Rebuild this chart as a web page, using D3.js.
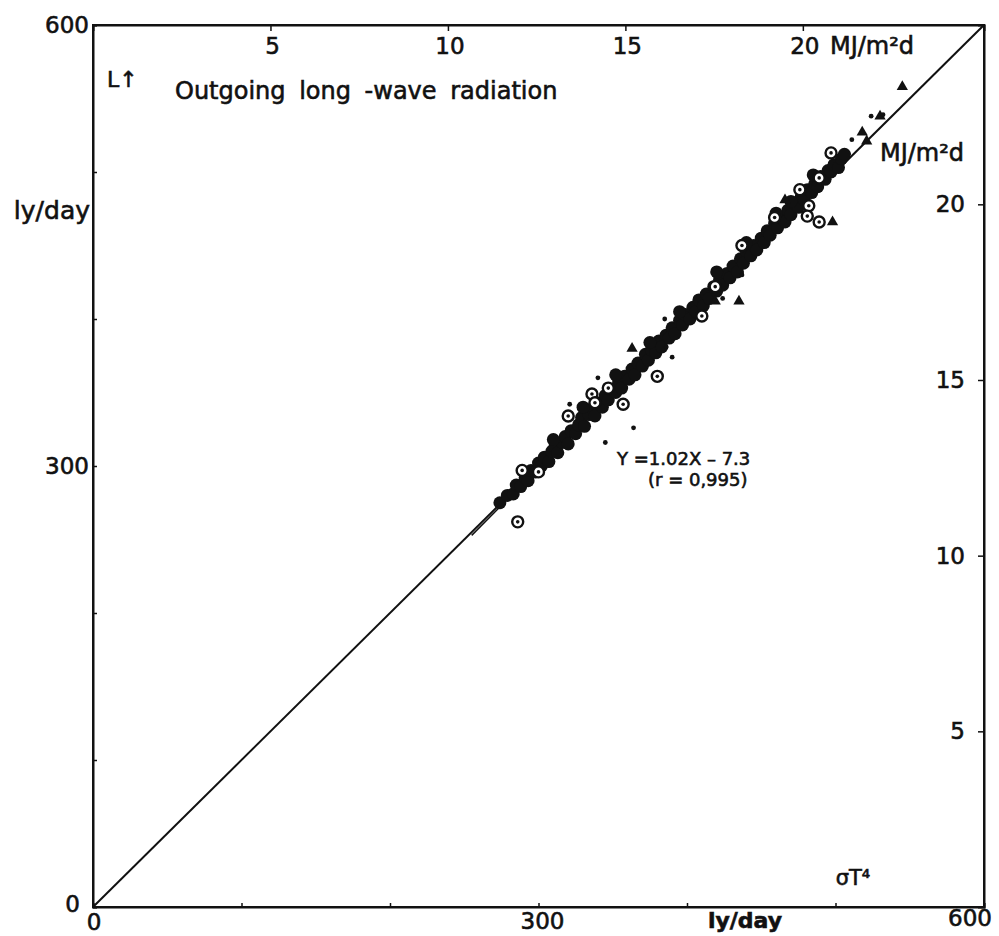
<!DOCTYPE html>
<html><head><meta charset="utf-8">
<script src="https://cdn.jsdelivr.net/npm/d3@7/dist/d3.min.js"></script>
<style>
html,body{margin:0;padding:0;background:#fff;}
text{font-family:"DejaVu Sans","Noto Sans",sans-serif;font-weight:normal;fill:#111;stroke:#111;stroke-width:0.6px;}
</style></head>
<body>
<svg id="chart" width="999" height="936"></svg>
<script>
// ---- data (ly/day) ----
const lyTicks = [0, 100, 200, 300, 400, 500, 600];
const lyLabels = [0, 300, 600];
const mjTicks = [5, 10, 15, 20];
const MJ_PER_LY = 0.04184;
const regression = {slope: 1.02, intercept: -7.3, xFrom: 255, xTo: 510};

const denseX = [274,279,283,285,288,291,293,295,298,300,302,304,307,309,311,313,316,318,320,322,325,327,329,331,334,336,338,341,343,345,347,349,352,354,356,358,361,363,365,367,370,372,374,376,379,381,383,386,388,390,392,395,397,399,402,404,406,408,411,413,415,418,420,422,424,427,429,431,434,436,438,440,443,445,447,450,452,454,456,459,461,463,466,468,470,472,475,477,479,481,484,486,488,490,493,495,497,499,502,504,506,330,352,420,460,485,440,395,470,310,375];
const denseY = [275,280,281,287,286,292,290,297,296,302,300,306,303,310,313,309,316,320,315,324,322,328,333,327,335,339,334,343,340,348,345,352,350,357,353,361,359,366,362,370,368,376,372,379,377,385,381,389,387,394,390,399,396,403,400,408,405,413,409,417,414,422,419,427,423,431,428,436,432,441,438,446,443,450,447,455,452,460,457,465,462,469,466,474,471,479,476,483,481,488,486,492,490,497,495,501,500,505,503,509,512,340,362,432,472,498,452,405,480,318,384];

const openX = [286,320,336,338,357,347,380,410,419,437,459,476,482,481,489,489,497,289,300];
const openY = [262,334,349,343,342,353,361,402,422,450,469,488,477,470,466,496,513,297,296];

const triX = [363,419,435,466,498,518,521,530,545];
const triY = [380,412,412,481,466,527,521,538,558];

const dotX = [321,364,345,385,390,340,386,524,532,511,437,424,486];
const dotY = [342,326,316,400,374,360,381,538,539,522,430,414,492];

// ---- layout ----
const svg = d3.select("#chart");
const L = 93, R = 984, T = 25, B = 907;
const x = d3.scaleLinear().domain([0, 600]).range([L, R]);
const y = d3.scaleLinear().domain([0, 600]).range([B, T]);
const xMJ = d3.scaleLinear().domain([0, 600 * MJ_PER_LY]).range([L, R]);
const yMJ = d3.scaleLinear().domain([0, 600 * MJ_PER_LY]).range([B, T]);

// axes (ticks inward, labels drawn separately)
svg.append("g").attr("transform", `translate(${L},0)`)
  .call(d3.axisLeft(y).tickValues(lyTicks).tickSize(-4).tickFormat(""));
svg.append("g").attr("transform", `translate(0,${B})`)
  .call(d3.axisBottom(x).tickValues(lyTicks).tickSize(-4).tickFormat(""));
svg.append("g").attr("transform", `translate(0,${T})`)
  .call(d3.axisTop(xMJ).tickValues(mjTicks).tickSize(-6).tickFormat(""));
svg.append("g").attr("transform", `translate(${R},0)`)
  .call(d3.axisRight(yMJ).tickValues(mjTicks).tickSize(-6).tickFormat(""));
svg.selectAll(".domain").attr("stroke", "#111").attr("stroke-width", 2);
svg.selectAll(".tick line").attr("stroke", "#111").attr("stroke-width", 1.5);

// frame
svg.append("rect").attr("x", L).attr("y", T).attr("width", R - L).attr("height", B - T)
  .attr("fill", "none").attr("stroke", "#111").attr("stroke-width", 2);

// 1:1 line
svg.append("line").attr("x1", x(0)).attr("y1", y(0)).attr("x2", x(600)).attr("y2", y(600))
  .attr("stroke", "#111").attr("stroke-width", 2);
// regression line
svg.append("line")
  .attr("x1", x(regression.xFrom)).attr("y1", y(regression.slope * regression.xFrom + regression.intercept))
  .attr("x2", x(regression.xTo)).attr("y2", y(regression.slope * regression.xTo + regression.intercept))
  .attr("stroke", "#111").attr("stroke-width", 1.5);

// dense filled points
svg.append("g").selectAll("circle").data(denseX).join("circle")
  .attr("cx", (d) => x(d)).attr("cy", (d, i) => y(denseY[i])).attr("r", 6.5).attr("fill", "#111");

// open circles with centre mark
const og = svg.append("g").selectAll("g").data(openX).join("g")
  .attr("transform", (d, i) => `translate(${x(d)},${y(openY[i])})`);
og.append("circle").attr("r", 5.5).attr("fill", "#fff").attr("stroke", "#111").attr("stroke-width", 2.4);
og.append("circle").attr("r", 1.8).attr("fill", "#111");

// triangles
svg.append("g").selectAll("path").data(triX).join("path")
  .attr("d", d3.symbol(d3.symbolTriangle, 55))
  .attr("transform", (d, i) => `translate(${x(d)},${y(triY[i])})`).attr("fill", "#111");

// small dots
svg.append("g").selectAll("circle").data(dotX).join("circle")
  .attr("cx", (d) => x(d)).attr("cy", (d, i) => y(dotY[i])).attr("r", 2.4).attr("fill", "#111");

// ---- labels ----
const t = (txt, px, py, size, anchor) => svg.append("text").attr("x", px).attr("y", py)
  .attr("font-size", size).attr("text-anchor", anchor || "start").text(txt);

// left ly/day labels
t("600", L - 4, y(600) + 8, 23, "end");
t("300", L - 4, y(300) + 8, 23, "end");
t("0", L - 13, y(0) + 5, 23, "end");
t("ly/day", L - 3, 219, 25, "end");
// bottom ly/day labels
t("0", x(0) + 1, 930, 23, "middle");
t("300", x(300) + 4, 929, 23, "middle");
t("600", x(600) - 14, 926, 23, "middle");
t("ly/day", 745, 928, 22, "middle").style("font-weight", "bold");
t("σT⁴", 853, 885, 21, "middle");
// top MJ labels
mjTicks.forEach((v) => t(String(v), xMJ(v) + 2, T + 29, 23, "middle"));
t("MJ/m²d", 830, T + 29, 24, "start");
// right MJ labels
mjTicks.forEach((v) => t(String(v), R - 19, yMJ(v) + 8, 23, "end"));
t("MJ/m²d", 880, 161, 24, "start");
// titles
t("L↑", 107, 87, 22, "start");
t("Outgoing  long -wave  radiation", 175, 99, 24, "start").attr("word-spacing", 6);
t("Y =1.02X  – 7.3", 617, 465, 18, "start");
t("(r = 0,995)", 648, 486, 18, "start");
</script>
</body></html>
